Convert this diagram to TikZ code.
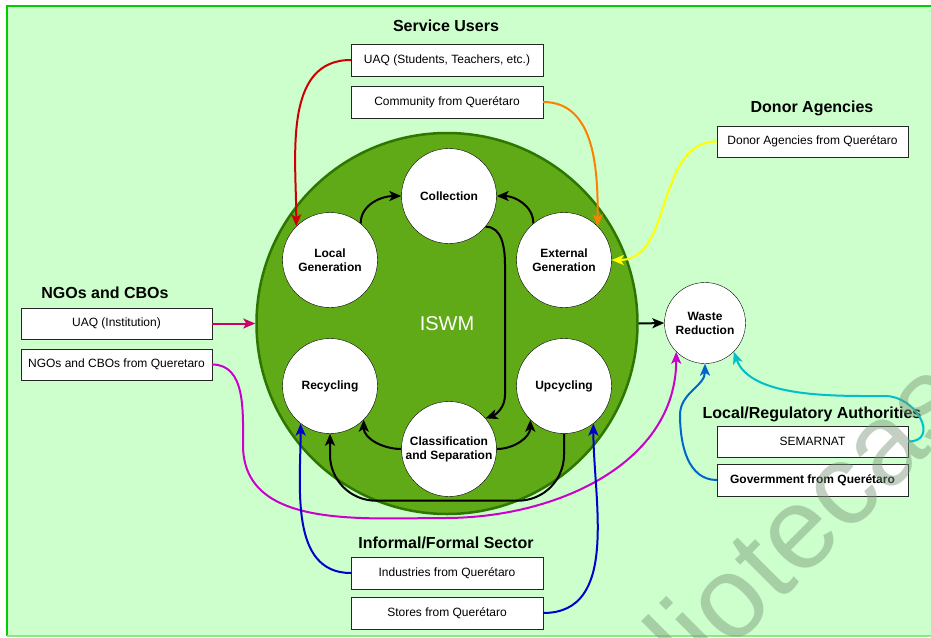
\documentclass[tikz,border=0pt]{standalone}
\usepackage{fontspec}
\setmainfont{Liberation Sans}
\definecolor{bgmint}{RGB}{204,255,204}
\definecolor{bgedge}{RGB}{0,204,0}
\definecolor{iswmgreen}{RGB}{96,169,23}
\definecolor{iswmedge}{RGB}{45,118,0}
\definecolor{userred}{RGB}{204,0,0}
\definecolor{userorange}{RGB}{255,128,0}
\definecolor{donoryellow}{RGB}{255,255,0}
\definecolor{ngocrimson}{RGB}{204,0,102}
\definecolor{ngomagenta}{RGB}{204,0,204}
\definecolor{sectorblue}{RGB}{0,0,204}
\definecolor{govblue}{RGB}{0,102,204}
\definecolor{semcyan}{RGB}{0,190,204}
\definecolor{wmark}{RGB}{120,150,120}
\usetikzlibrary{arrows.meta}

\begin{document}
\begin{tikzpicture}[x=1pt, y=1pt,
  actor/.style={draw=black!85, fill=white, minimum width=192, minimum height=32, inner sep=0pt, font=\fontsize{12}{14}\selectfont},
  group/.style={font=\bfseries\fontsize{16}{19}\selectfont},
  stage/.style={circle, draw=black, fill=white, minimum size=95, inner sep=0pt, align=center, font=\bfseries\fontsize{12}{14}\selectfont},
  link/.style={line width=2pt, -{Stealth[length=12pt, width=10pt, inset=3pt]}},
  cycle/.style={link, black}]
  \useasboundingbox (0,0) rectangle (931,-637);
  \clip (0,0) rectangle (931,-637);

  % Background
  \fill[bgmint] (7,-6) rectangle (940,-636);
  \draw[bgedge, line width=1.5] (7,-636) -- (7,-6) -- (940,-6);
  \draw[bgedge!45, line width=1.5] (7,-636) -- (940,-636);

  % ISWM core
  \node[circle, fill=iswmgreen, draw=iswmedge, line width=2.5, minimum size=381, text=white, font=\fontsize{20}{24}\selectfont] (iswm) at (447,-323.5) {ISWM};

  \node[stage] (col) at (449,-196) {Collection};
  \node[stage] (lg) at (330,-260) {Local\\Generation};
  \node[stage] (eg) at (564,-260) {External\\Generation};
  \node[stage] (rc) at (330,-386) {Recycling};
  \node[stage] (up) at (564,-386) {Upcycling};
  \node[stage] (cs) at (449,-449) {Classification\\and Separation};
  \node[stage, minimum size=81] (wr) at (705,-323) {Waste\\Reduction};

  % Service users
  \node[group] (sutitle) at (446,-26) {Service Users};
  \node[actor] (ua) at (447,-60) {UAQ (Students, Teachers, etc.)};
  \node[actor] (cm) at (447,-102) {Community from Querétaro};

  % Donor agencies
  \node[group] (datitle) at (812,-108) {Donor Agencies};
  \node[actor, minimum width=191, minimum height=31] (dn) at (812.5,-141.5) {Donor Agencies from Querétaro};

  % NGOs and CBOs
  \node[group] (ngtitle) at (105,-293) {NGOs and CBOs};
  \node[actor, minimum width=191, minimum height=31] (ui) at (116.5,-323.5) {UAQ (Institution)};
  \node[actor, minimum width=191, minimum height=31] (ng) at (116.5,-364.5) {NGOs and CBOs from Queretaro};

  % Local/regulatory authorities
  \node[group] (latitle) at (812,-414) {Local/Regulatory Authorities};
  \node[actor, minimum width=191, minimum height=31] (sm) at (812.5,-441.5) {SEMARNAT};
  \node[actor, minimum width=191, font=\bfseries\fontsize{12}{14}\selectfont] (gv) at (812.5,-480) {Govermment from Querétaro};

  % Informal/formal sector
  \node[group] (istitle) at (446,-543) {Informal/Formal Sector};
  \node[actor] (ind) at (447,-573) {Industries from Querétaro};
  \node[actor] (st) at (447,-613) {Stores from Querétaro};

  % waypoints
  \coordinate (cl1) at (505,-265);
  \coordinate (cl2) at (505,-395);
  \coordinate (mg1) at (243,-445);
  \coordinate (mg2) at (445,-518);
  \coordinate (gb1) at (680,-415);
  \coordinate (cy1) at (885,-396);

  % waste cycle
  \draw[cycle] (lg.50) to[out=90, in=180] (col.west);
  \draw[cycle] (eg.130) to[out=90, in=0] (col.east);
  \draw[cycle] (col.-40) to[out=0, in=90] (cl1) -- (cl2) to[out=-90, in=20] (cs.40);
  \draw[cycle] (cs.west) to[out=180, in=-90] (rc.-45);
  \draw[cycle] (cs.east) to[out=0, in=-90] (up.-135);
  \draw[cycle, rounded corners=46] (up.south) -- ++(0,-67) -| (rc.south);
  \draw[cycle] (iswm.east) -- (wr.west);

  % stakeholders
  \draw[link, userred] (ua.west) to[out=180, in=90] (lg.135);
  \draw[link, userorange] (cm.east) to[out=0, in=90] (eg.45);
  \draw[link, donoryellow] (dn.west) to[out=180, in=0] (eg.east);
  \draw[link, ngocrimson] (ui.east) -- (iswm.west);
  \draw[link, ngomagenta] (ng.east) to[out=0, in=90] (mg1) to[out=-90, in=180] (mg2) to[out=0, in=-90] (wr.225);
  \draw[link, sectorblue] (ind.west) to[out=180, in=-90] (rc.232);
  \draw[link, sectorblue] (st.east) to[out=0, in=-90] (up.-52);
  \draw[link, govblue] (gv.west) to[out=180, in=-90] (gb1) to[out=90, in=-90] (wr.south);
  \draw[link, semcyan] (sm.east) to[out=0, in=0, looseness=1.6] (cy1) to[out=180, in=-70, looseness=0.8] (wr.-45);

  % watermark
  \node[anchor=base west, rotate=45, text=wmark, text opacity=0.45, inner sep=0pt, font=\fontsize{116}{116}\selectfont] (wm) at (586,-796) {bibliotecas};
\end{tikzpicture}
\end{document}
